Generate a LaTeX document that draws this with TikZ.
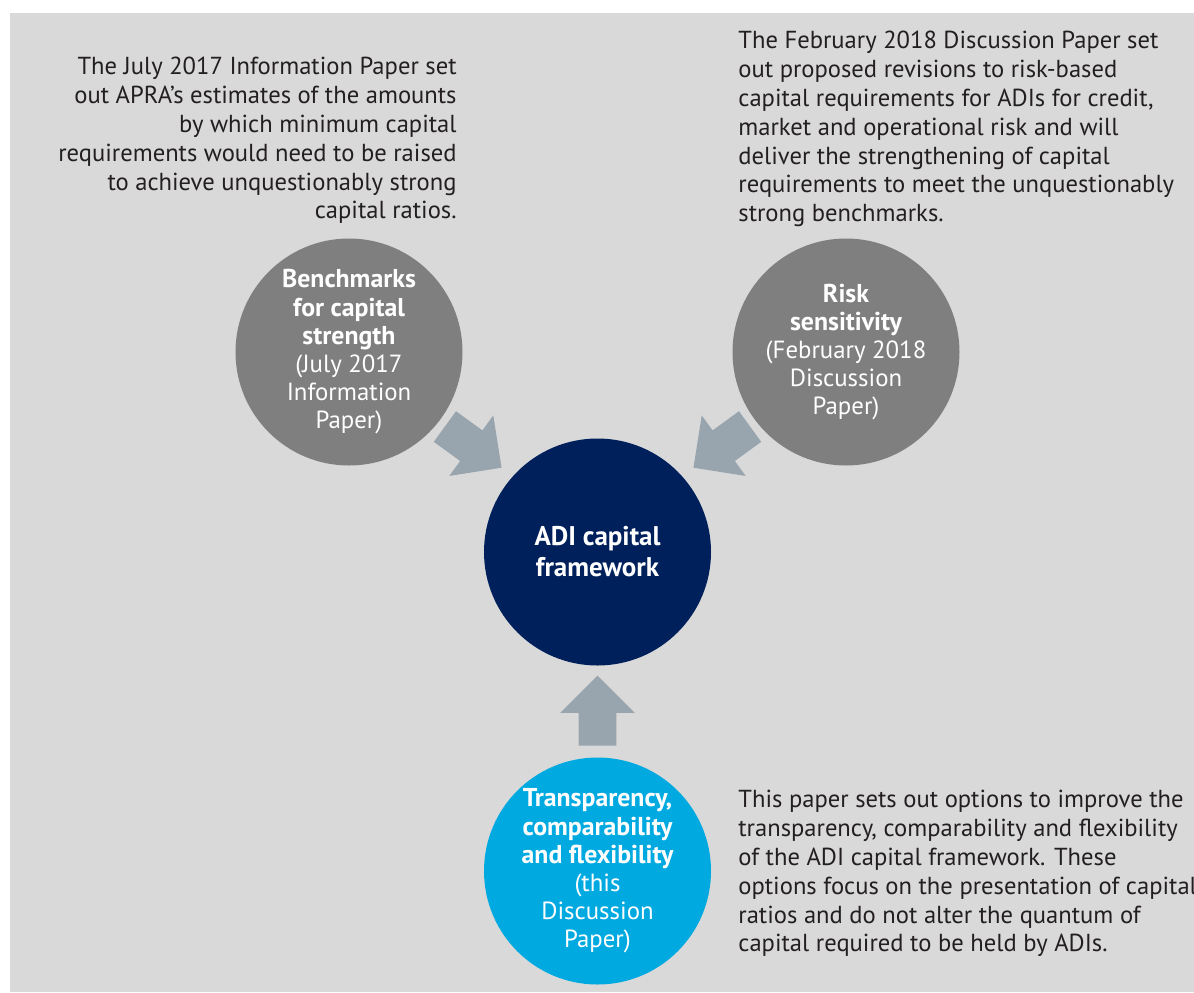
\documentclass[tikz,border=0pt]{standalone}
\usepackage{fontspec}
\setmainfont{PT Sans}
\usetikzlibrary{shapes.arrows}
\definecolor{panel}{HTML}{D9D9D9}
\definecolor{midgrey}{HTML}{7F7F7F}
\definecolor{navy}{HTML}{00205B}
\definecolor{skyblue}{HTML}{00A9E0}
\definecolor{arrowgrey}{HTML}{98A4AE}
\definecolor{ink}{HTML}{231F20}
\newcommand{\bubblehead}[1]{{\fontsize{12.9}{14.1}\selectfont\bfseries #1}}
\tikzset{
  bubble/.style={circle, fill=#1, text=white, minimum size=113.5pt,
    inner sep=0pt, align=center, font=\fontsize{12.4}{14.1}\selectfont},
  blockarrow/.style={single arrow, fill=arrowgrey, draw=none,
    inner xsep=0pt, inner ysep=9.25pt, minimum height=35pt,
    minimum width=37pt, single arrow head extend=9.25pt},
  note/.style={inner sep=0pt, text=ink, font=\fontsize{12.3}{14.4}\selectfont}
}
\begin{document}
\begin{tikzpicture}[x=0.5pt, y=-0.5pt]
  \useasboundingbox (0,0) rectangle (1194,992);
  \fill[white] (0,0) rectangle (1194,992);
  \fill[panel] (10,13) rectangle (1194,992);

  % circles
  \node[bubble=midgrey] (bench) at (349,352)
    {\bubblehead{Benchmarks}\\\bubblehead{for capital}\\\bubblehead{strength}\\(July 2017\\Information\\Paper)};
  \node[bubble=midgrey] (risk) at (846,352)
    {\bubblehead{Risk}\\\bubblehead{sensitivity}\\(February 2018\\Discussion\\Paper)};
  \node[bubble=navy, font=\fontsize{13.5}{15.5}\selectfont\bfseries] (adi) at (597.5,552)
    {ADI capital\\framework};
  \node[bubble=skyblue] (trans) at (597.5,871)
    {\bubblehead{Transparency,}\\\bubblehead{comparability}\\\bubblehead{and flexibility}\\(this\\Discussion\\Paper)};

  % block arrows
  \node[blockarrow, anchor=tip, rotate=-36] (arrB) at (502,468) {};
  \node[blockarrow, anchor=tip, rotate=216] (arrR) at (693,468) {};
  \node[blockarrow, anchor=tip, rotate=90] (arrT) at (597.5,675) {};

  % notes
  \node[note, anchor=north east, align=right] (noteB) at (457,57)
    {The July 2017 Information Paper set\\out APRA's estimates of the amounts\\by which minimum capital\\requirements would need to be raised\\to achieve unquestionably strong\\capital ratios.};
  \node[note, anchor=north west, align=left] (noteR) at (738,31)
    {The February 2018 Discussion Paper set\\out proposed revisions to risk-based\\capital requirements for ADIs for credit,\\market and operational risk and will\\deliver the strengthening of capital\\requirements to meet the unquestionably\\strong benchmarks.};
  \node[note, anchor=north west, align=left] (noteT) at (738,790)
    {This paper sets out options to improve the\\transparency, comparability and flexibility\\of the ADI capital framework. These\\options focus on the presentation of capital\\ratios and do not alter the quantum of\\capital required to be held by ADIs.};
\end{tikzpicture}
\end{document}
